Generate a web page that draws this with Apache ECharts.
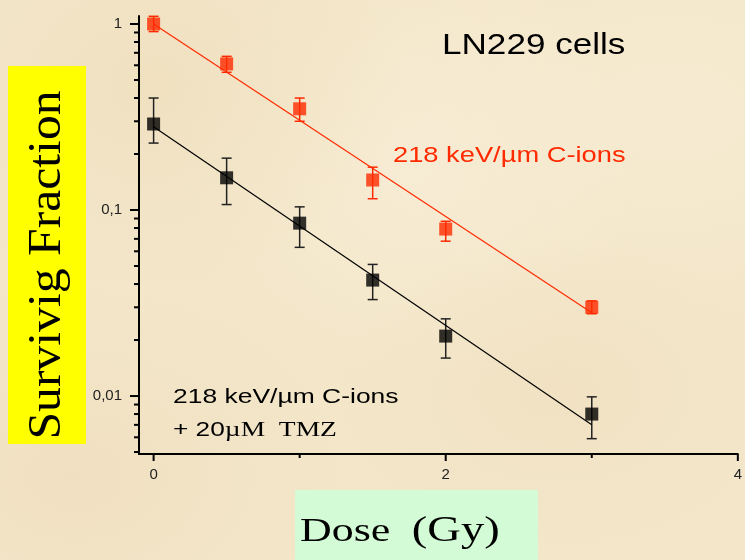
<!DOCTYPE html>
<html>
<head>
<meta charset="utf-8">
<title>LN229 cells – survival</title>
<script src="https://cdn.jsdelivr.net/npm/echarts@6/dist/echarts.min.js"></script>
<style>
  html, body { margin: 0; padding: 0; }
  body {
    width: 745px; height: 560px; overflow: hidden;
    background-color: #f3e6c9;
    background-image:
      radial-gradient(ellipse at 20% 15%, rgba(236,218,182,0.45) 0%, rgba(236,218,182,0) 30%),
      radial-gradient(ellipse at 75% 70%, rgba(238,220,186,0.45) 0%, rgba(238,220,186,0) 28%),
      radial-gradient(ellipse at 55% 30%, rgba(249,240,218,0.6) 0%, rgba(249,240,218,0) 40%),
      radial-gradient(ellipse at 10% 85%, rgba(236,216,180,0.4) 0%, rgba(236,216,180,0) 28%),
      radial-gradient(ellipse at 90% 20%, rgba(248,238,214,0.6) 0%, rgba(248,238,214,0) 35%);
  }
  #chart { width: 745px; height: 560px; }
</style>
</head>
<body>
<div id="chart"></div>
<script>
// Dose points (Gy)
const doses = [0, 0.5, 1, 1.5, 2, 3];

// 218 keV/um carbon ions alone
const cIonSF   = [1.00, 0.61, 0.35, 0.145, 0.079, 0.030];
const cIonLow  = [0.91, 0.55, 0.30, 0.115, 0.068, 0.0277];
const cIonHigh = [1.10, 0.67, 0.40, 0.170, 0.087, 0.0325];

// carbon ions + 20 uM temozolomide
const tmzSF   = [0.29, 0.149, 0.085, 0.042, 0.021, 0.0080];
const tmzLow  = [0.229, 0.107, 0.063, 0.033, 0.016, 0.0059];
const tmzHigh = [0.40, 0.190, 0.104, 0.051, 0.026, 0.0099];

// exponential fits (straight lines on the log scale)
const fitDose = [0, 3];
const cIonFit = [1.0, 0.028];
const tmzFit  = [0.28, 0.0070];

// axis ticks
const xMajorTicks = [0, 2, 4];
const xMinorTicks = [1, 3];
const yMajorTicks = [0.01, 0.1, 1];
const yMinorTicks = [0.005, 0.006, 0.007, 0.008, 0.009,
                     0.02, 0.03, 0.04, 0.05, 0.06, 0.07, 0.08, 0.09,
                     0.2, 0.3, 0.4, 0.5, 0.6, 0.7, 0.8, 0.9];

const RED = '#ff2a00';
const BLACK = '#000000';
const SANS = '"Liberation Sans", Arial, sans-serif';
const SERIF = '"Liberation Serif", "Times New Roman", serif';

const X_MIN = -0.1, X_MAX = 4;
const Y_MIN = 0.00488, Y_MAX = 1.104;

// vertical error bars with small caps
function errorSeries(name, low, high, color) {
  return {
    name: name,
    type: 'custom',
    xAxisIndex: 0, yAxisIndex: 0,
    data: doses.map((d, i) => [d, low[i], high[i]]),
    renderItem: function (params, api) {
      const top = api.coord([api.value(0), api.value(2)]);
      const bot = api.coord([api.value(0), api.value(1)]);
      const cap = 5;
      const style = { stroke: color, lineWidth: 1.5, fill: null };
      return {
        type: 'group',
        children: [
          { type: 'line', shape: { x1: top[0], y1: top[1], x2: bot[0], y2: bot[1] }, style: style },
          { type: 'line', shape: { x1: top[0] - cap, y1: top[1], x2: top[0] + cap, y2: top[1] }, style: style },
          { type: 'line', shape: { x1: bot[0] - cap, y1: bot[1], x2: bot[0] + cap, y2: bot[1] }, style: style }
        ]
      };
    },
    z: 2,
    silent: true
  };
}

function yLabel(v) {
  return String(Number(Number(v).toPrecision(3))).replace('.', ',');
}

// titles and annotations
const annotations = [
  { id: 'yPanel', type: 'rect', left: 8, top: 66, shape: { width: 78, height: 378 }, style: { fill: '#ffff00' }, z: 1 },
  {
    id: 'yTitle', type: 'text', x: 48, y: 265, rotation: Math.PI / 2, scaleX: 1.08,
    style: { text: 'Survivig Fraction', font: '46px ' + SERIF, fill: '#000', align: 'center', verticalAlign: 'middle' },
    z: 2
  },
  { id: 'xPanel', type: 'rect', left: 295, top: 490, shape: { width: 243, height: 70 }, style: { fill: '#d3fbd5' }, z: 1 },
  {
    id: 'xTitle', type: 'text', x: 300, y: 532, scaleX: 1.33,
    style: {
      text: '{a|Dose }{b|(Gy)}', align: 'left', verticalAlign: 'middle', fill: '#000',
      rich: {
        a: { font: '33px ' + SERIF, fill: '#000', padding: [0, 8, 0, 0] },
        b: { font: '35px ' + SERIF, fill: '#000' }
      }
    },
    z: 2
  },
  {
    id: 'cells', type: 'text', x: 442, y: 46, scaleX: 1.17,
    style: { text: 'LN229 cells', font: '30px ' + SANS, fill: '#000', align: 'left', verticalAlign: 'middle' },
    z: 5
  },
  {
    id: 'redLabel', type: 'text', x: 393, y: 156, scaleX: 1.24,
    style: { text: '218 keV/µm C-ions', font: '22px ' + SANS, fill: RED, align: 'left', verticalAlign: 'middle' },
    z: 5
  },
  {
    id: 'blackLabel1', type: 'text', x: 173, y: 397, scaleX: 1.26,
    style: { text: '218 keV/µm C-ions', font: '21px ' + SANS, fill: '#000', align: 'left', verticalAlign: 'middle' },
    z: 5
  },
  {
    id: 'blackLabel2', type: 'text', x: 173, y: 430, scaleX: 1.25,
    style: {
      text: '{s|+ 20}{t|µM  TMZ}', align: 'left', verticalAlign: 'middle', fill: '#000',
      rich: {
        s: { font: '21px ' + SANS, fill: '#000' },
        t: { font: '22px ' + SERIF, fill: '#000' }
      }
    },
    z: 5
  }
];

const chart = echarts.init(document.getElementById('chart'), null, { renderer: 'canvas' });

chart.setOption({
  backgroundColor: 'transparent',
  animation: false,
  grid: { left: 139, right: 1, top: 16, bottom: 106 },
  xAxis: {
    type: 'value', min: X_MIN, max: X_MAX,
    axisLine: { show: true, onZero: false, lineStyle: { color: BLACK, width: 2 } },
    axisTick: { show: false },
    axisLabel: { show: true, customValues: xMajorTicks, margin: 13, color: '#222', fontSize: 15, fontFamily: SANS },
    splitLine: { show: false }
  },
  yAxis: {
    type: 'log', min: Y_MIN, max: Y_MAX, position: 'left',
    axisLine: { show: true, onZero: false, lineStyle: { color: BLACK, width: 2 } },
    axisTick: { show: false },
    axisLabel: { show: true, customValues: yMajorTicks, margin: 17, color: '#222', fontSize: 15, fontFamily: SANS, formatter: yLabel },
    splitLine: { show: false }
  },
  series: [
    errorSeries('C-ions error', cIonLow, cIonHigh, RED),
    errorSeries('C-ions + TMZ error', tmzLow, tmzHigh, '#222'),
    {
      name: 'C-ions fit', type: 'line', xAxisIndex: 0, yAxisIndex: 0,
      data: fitDose.map((d, i) => [d, cIonFit[i]]),
      showSymbol: false, lineStyle: { color: RED, width: 1.2 }, z: 3, silent: true
    },
    {
      name: 'C-ions + TMZ fit', type: 'line', xAxisIndex: 0, yAxisIndex: 0,
      data: fitDose.map((d, i) => [d, tmzFit[i]]),
      showSymbol: false, lineStyle: { color: BLACK, width: 1.2 }, z: 3, silent: true
    },
    {
      name: '218 keV/µm C-ions', type: 'scatter', xAxisIndex: 0, yAxisIndex: 0,
      data: doses.map((d, i) => [d, cIonSF[i]]),
      symbol: 'rect', symbolSize: 13, itemStyle: { color: RED }, z: 4
    },
    {
      name: '218 keV/µm C-ions + 20µM TMZ', type: 'scatter', xAxisIndex: 0, yAxisIndex: 0,
      data: doses.map((d, i) => [d, tmzSF[i]]),
      symbol: 'rect', symbolSize: 13, itemStyle: { color: BLACK }, z: 4
    }
  ],
  graphic: annotations
});

// Left axis line and outward tick marks, positioned through the grid's own scales
const px = (x, y) => chart.convertToPixel({ gridIndex: 0 }, [x, y]);
const tickStyle = { stroke: BLACK, lineWidth: 2, fill: null };
const frame = [];
function addLine(id, x1, y1, x2, y2) {
  frame.push({ id: id, type: 'line', shape: { x1: x1, y1: y1, x2: x2, y2: y2 }, style: tickStyle, z: 10, silent: true });
}
const yBottom = px(X_MIN, Y_MIN), yTop = px(X_MIN, Y_MAX);
addLine('yAxisLine', yBottom[0], yBottom[1] + 1, yTop[0], yTop[1]);
yMajorTicks.forEach((v, i) => { const p = px(X_MIN, v); addLine('yMaj' + i, p[0] - 9, p[1], p[0], p[1]); });
yMinorTicks.forEach((v, i) => { const p = px(X_MIN, v); addLine('yMin' + i, p[0] - 5, p[1], p[0], p[1]); });
xMajorTicks.forEach((v, i) => { const p = px(v, Y_MIN); addLine('xMaj' + i, p[0], p[1], p[0], p[1] + 7); });
xMinorTicks.forEach((v, i) => { const p = px(v, Y_MIN); addLine('xMin' + i, p[0], p[1], p[0], p[1] + 4); });

chart.setOption({ graphic: annotations.concat(frame) });
</script>
</body>
</html>
